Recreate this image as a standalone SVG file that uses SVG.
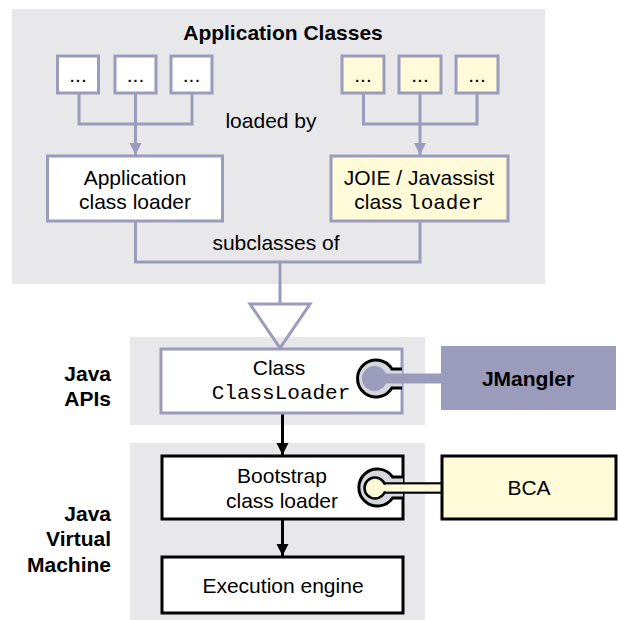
<svg xmlns="http://www.w3.org/2000/svg" width="618" height="620" viewBox="0 0 618 620">
<style>
.t{font-family:"Liberation Sans",Arial,sans-serif;font-size:21px;fill:#000;text-anchor:middle}
.b{font-weight:bold}
.m{font-family:"Liberation Mono","Courier New",monospace}
.r{text-anchor:end}
.panel{fill:#e8e8eb}
.pbox{fill:#fff;stroke:#9b9bbb;stroke-width:3}
.ybox{fill:#fffbd8;stroke:#9b9bbb;stroke-width:3}
.kbox{fill:#fff;stroke:#000;stroke-width:3}
.pl{fill:none;stroke:#9b9bbb;stroke-width:3}
.kl{fill:none;stroke:#000;stroke-width:3}
</style>
<defs>
<marker id="pa" markerUnits="userSpaceOnUse" markerWidth="14" markerHeight="14" refX="12" refY="6" orient="auto"><path d="M0,0 L12,6 L0,12 Z" fill="#9b9bbb"/></marker>
<marker id="ka" markerUnits="userSpaceOnUse" markerWidth="14" markerHeight="14" refX="12" refY="6" orient="auto"><path d="M0,0 L12,6 L0,12 Z" fill="#000"/></marker>
</defs>
<g id="panels">
<rect class="panel" x="12" y="9" width="533" height="275"/>
<rect class="panel" x="130" y="337" width="295" height="88"/>
<rect class="panel" x="130" y="443" width="295" height="177"/>
</g>
<g id="labels">
<text class="t b" x="283" y="40">Application Classes</text>
<text class="t" x="271" y="128">loaded by</text>
<text class="t" x="276" y="250">subclasses of</text>
<text class="t b r" x="111" y="381">Java</text>
<text class="t b r" x="111" y="406">APIs</text>
<text class="t b r" x="111" y="521">Java</text>
<text class="t b r" x="111" y="546">Virtual</text>
<text class="t b r" x="111" y="572">Machine</text>
</g>
<g id="connectors">
<path class="pl" d="M79,93 V124 H192 V93 M135.5,93 V124"/>
<path class="pl" d="M135.5,124 V155" marker-end="url(#pa)"/>
<path class="pl" d="M363.5,93 V124 H477 V93 M420,93 V124"/>
<path class="pl" d="M420,124 V155" marker-end="url(#pa)"/>
<path class="pl" d="M135.5,221 V262 H420 V221 M280,262 V304"/>
<path class="pl" d="M250,304 H310 L280,348 Z" stroke-linejoin="miter"/>
<path class="kl" d="M282.5,413 V455" marker-end="url(#ka)"/>
<path class="kl" d="M282.5,519 V556" marker-end="url(#ka)"/>
</g>
<g id="app-items">
<rect class="pbox" x="57.5" y="56" width="41" height="37"/>
<rect class="pbox" x="115" y="56" width="41" height="37"/>
<rect class="pbox" x="171" y="56" width="41" height="37"/>
<text class="t" x="78" y="82">...</text>
<text class="t" x="135.5" y="82">...</text>
<text class="t" x="191.5" y="82">...</text>
</g>
<g id="joie-items">
<rect class="ybox" x="342" y="56" width="42" height="37"/>
<rect class="ybox" x="399" y="56" width="42" height="37"/>
<rect class="ybox" x="456" y="56" width="42" height="37"/>
<text class="t" x="363" y="82">...</text>
<text class="t" x="420" y="82">...</text>
<text class="t" x="477" y="82">...</text>
</g>
<g id="app-loader">
<rect class="pbox" x="47.5" y="156" width="175" height="65"/>
<text class="t" x="135" y="184.5">Application</text>
<text class="t" x="135" y="208.5">class loader</text>
</g>
<g id="joie-loader">
<rect class="ybox" x="331" y="156" width="177" height="65"/>
<text class="t" x="419" y="184.5">JOIE / Javassist</text>
<text class="t" x="419" y="208.5">class <tspan class="m">loader</tspan></text>
</g>
<g id="classloader">
<rect class="pbox" x="161" y="349" width="241" height="64"/>
<text class="t" x="279" y="375">Class</text>
<text class="t m" x="281" y="399">ClassLoader</text>
<path d="M402,369 H391.9 A18.5,18.5 0 1 0 391.9,388 H402" fill="#d6d6de" stroke="#000" stroke-width="3"/>
<rect x="375" y="373.5" width="66" height="10" fill="#9b9bbb"/>
<circle cx="374.5" cy="378.5" r="12.5" fill="#9b9bbb"/>
</g>
<g id="jmangler">
<rect x="441" y="346" width="175" height="64" fill="#9b9bbb"/>
<text class="t b" x="528" y="385.5">JMangler</text>
</g>
<g id="bootstrap">
<rect class="kbox" x="162" y="456" width="241" height="63"/>
<text class="t" x="282" y="483">Bootstrap</text>
<text class="t" x="282" y="508">class loader</text>
<path d="M403,477 H392.6 A18.5,18.5 0 1 0 392.6,498 H403" fill="#d6d6de" stroke="#000" stroke-width="3"/>
<path d="M375,483.5 H442 M375,492.5 H442" stroke="#000" stroke-width="2.5"/>
<rect x="375" y="484.5" width="67" height="7" fill="#fffbd8"/>
<circle cx="375" cy="488" r="10.5" fill="#fffbd8" stroke="#000" stroke-width="2.5"/>
<rect x="376" y="484.8" width="12" height="6.4" fill="#fffbd8"/>
</g>
<g id="bca">
<rect x="442" y="456" width="174" height="63" fill="#fffbd8" stroke="#000" stroke-width="3"/>
<text class="t" x="529" y="495">BCA</text>
</g>
<g id="execution">
<rect class="kbox" x="162" y="557" width="241" height="56"/>
<text class="t" x="283" y="593">Execution engine</text>
</g>
</svg>
